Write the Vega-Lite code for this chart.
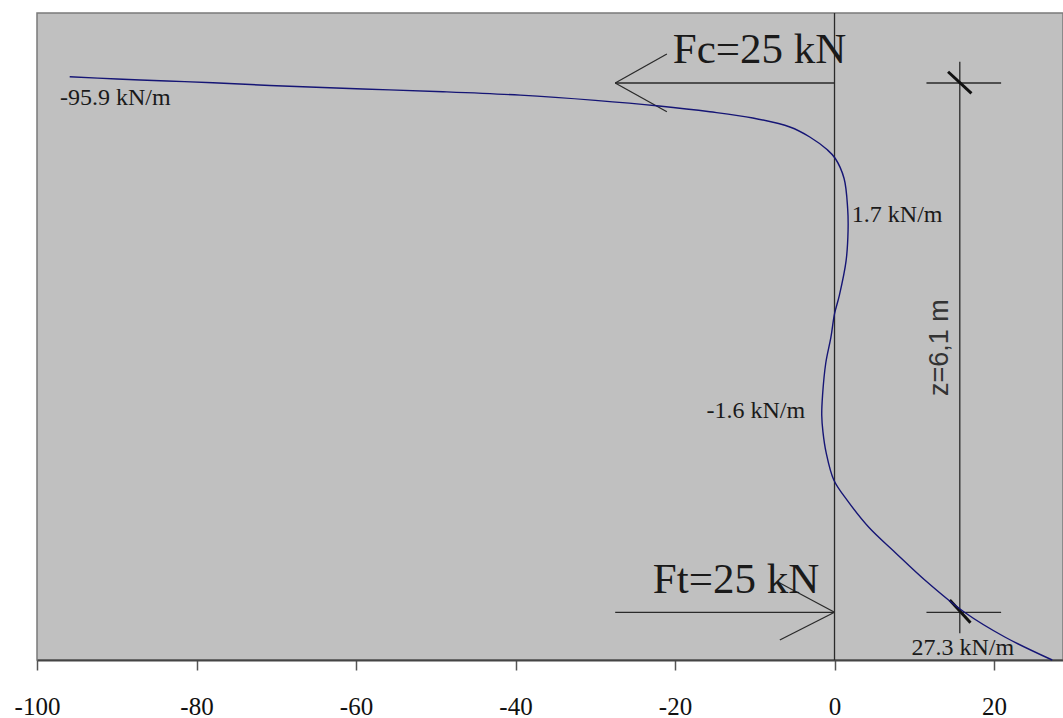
{
  "$schema": "https://vega.github.io/schema/vega-lite/v6.json",
  "width": 1026,
  "height": 647,
  "autosize": {"type": "none"},
  "padding": {"left": 37, "top": 13, "right": 0, "bottom": 58},
  "background": "white",
  "config": {
    "view": {"fill": "#c0c0c0", "stroke": "#7a7a7a", "strokeWidth": 1.5},
    "text": {"font": "Liberation Serif", "color": "#1a1a1a"}
  },
  "datasets": {
    "curve": [
      {"x": -95.9, "z": -0.073},
      {"x": -89.97, "z": -0.046},
      {"x": -83.7, "z": -0.023},
      {"x": -77.94, "z": -0.003},
      {"x": -69.16, "z": 0.035},
      {"x": -59.13, "z": 0.069},
      {"x": -49.1, "z": 0.1},
      {"x": -39.4, "z": 0.14},
      {"x": -30.0, "z": 0.2},
      {"x": -22.0, "z": 0.265},
      {"x": -15.63, "z": 0.331},
      {"x": -10.24, "z": 0.403},
      {"x": -5.6, "z": 0.507},
      {"x": -3.1, "z": 0.622},
      {"x": -0.9, "z": 0.77},
      {"x": 0.1, "z": 0.87},
      {"x": 1.2, "z": 1.1},
      {"x": 1.65, "z": 1.45},
      {"x": 1.7, "z": 1.7},
      {"x": 1.45, "z": 2.05},
      {"x": 0.6, "z": 2.45},
      {"x": 0.0, "z": 2.66},
      {"x": -0.45, "z": 2.93},
      {"x": -1.1, "z": 3.23},
      {"x": -1.5, "z": 3.6},
      {"x": -1.6, "z": 3.83},
      {"x": -1.45, "z": 4.02},
      {"x": -1.05, "z": 4.26},
      {"x": -0.09, "z": 4.575},
      {"x": 1.6, "z": 4.81},
      {"x": 4.3, "z": 5.12},
      {"x": 7.6, "z": 5.41},
      {"x": 11.32, "z": 5.728},
      {"x": 16.3, "z": 6.1},
      {"x": 21.35, "z": 6.385},
      {"x": 27.3, "z": 6.65}
    ],
    "thin": [
      {"x": 0, "z": -0.807, "x2": 0, "z2": 6.65},
      {"x": -27.5, "z": 0, "x2": 0, "z2": 0},
      {"x": -27.5, "z": 0, "x2": -21.02, "z2": -0.334},
      {"x": -27.5, "z": 0, "x2": -21.02, "z2": 0.331},
      {"x": -27.5, "z": 6.1, "x2": 0, "z2": 6.1},
      {"x": 0, "z": 6.1, "x2": -6.86, "z2": 5.762},
      {"x": 0, "z": 6.1, "x2": -6.86, "z2": 6.419},
      {"x": 15.71, "z": -0.245, "x2": 15.71, "z2": 6.342},
      {"x": 11.53, "z": 0, "x2": 20.89, "z2": 0},
      {"x": 11.53, "z": 6.1, "x2": 20.89, "z2": 6.1}
    ],
    "thick": [
      {"x": 14.24, "z": -0.13, "x2": 17.17, "z2": 0.119},
      {"x": 14.45, "z": 5.958, "x2": 17.05, "z2": 6.22}
    ],
    "small": [
      {"x": -97.12, "z": 0.254, "t": "-95.9 kN/m"},
      {"x": 2.17, "z": 1.598, "t": "1.7 kN/m"},
      {"x": -16.05, "z": 3.864, "t": "-1.6 kN/m"},
      {"x": 9.65, "z": 6.592, "t": "27.3 kN/m"}
    ],
    "big": [
      {"x": -20.27, "z": -0.23, "t": "Fc=25 kN"},
      {"x": -22.78, "z": 5.878, "t": "Ft=25 kN"}
    ],
    "dim": [
      {"x": 13.2, "z": 3.05, "t": "z=6,1  m"}
    ]
  },
  "encoding": {
    "x": {
      "field": "x",
      "type": "quantitative",
      "scale": {"domain": [-100, 28.65], "nice": false, "zero": false},
      "axis": {
        "values": [-100, -80, -60, -40, -20, 0, 20],
        "labelExpr": "'' + datum.value",
        "title": null,
        "grid": false,
        "tickSize": 10,
        "tickColor": "#555555",
        "tickWidth": 1.5,
        "domainColor": "#444444",
        "domainWidth": 2,
        "labelFont": "Liberation Serif",
        "labelFontSize": 25,
        "labelColor": "#111111",
        "labelPadding": 24,
        "labelFlush": false,
        "labelOverlap": false
      }
    },
    "y": {
      "field": "z",
      "type": "quantitative",
      "scale": {"domain": [-0.807, 6.65], "nice": false, "zero": false, "reverse": true},
      "axis": null
    }
  },
  "layer": [
    {
      "data": {"name": "thin"},
      "mark": {"type": "rule", "color": "#2a2a2a", "strokeWidth": 1.3},
      "encoding": {"x2": {"field": "x2"}, "y2": {"field": "z2"}}
    },
    {
      "data": {"name": "thick"},
      "mark": {"type": "rule", "color": "#111111", "strokeWidth": 3},
      "encoding": {"x2": {"field": "x2"}, "y2": {"field": "z2"}}
    },
    {
      "data": {"name": "curve"},
      "mark": {"type": "line", "color": "#151575", "strokeWidth": 1.4, "interpolate": "catmull-rom"},
      "encoding": {"order": {"field": "z", "type": "quantitative"}}
    },
    {
      "data": {"name": "small"},
      "mark": {"type": "text", "align": "left", "baseline": "alphabetic", "fontSize": 24},
      "encoding": {"text": {"field": "t"}}
    },
    {
      "data": {"name": "big"},
      "mark": {"type": "text", "align": "left", "baseline": "alphabetic", "fontSize": 43},
      "encoding": {"text": {"field": "t"}}
    },
    {
      "data": {"name": "dim"},
      "mark": {"type": "text", "align": "center", "baseline": "middle", "angle": 270, "font": "Liberation Sans", "fontSize": 27, "color": "#333333"},
      "encoding": {"text": {"field": "t"}}
    }
  ]
}
